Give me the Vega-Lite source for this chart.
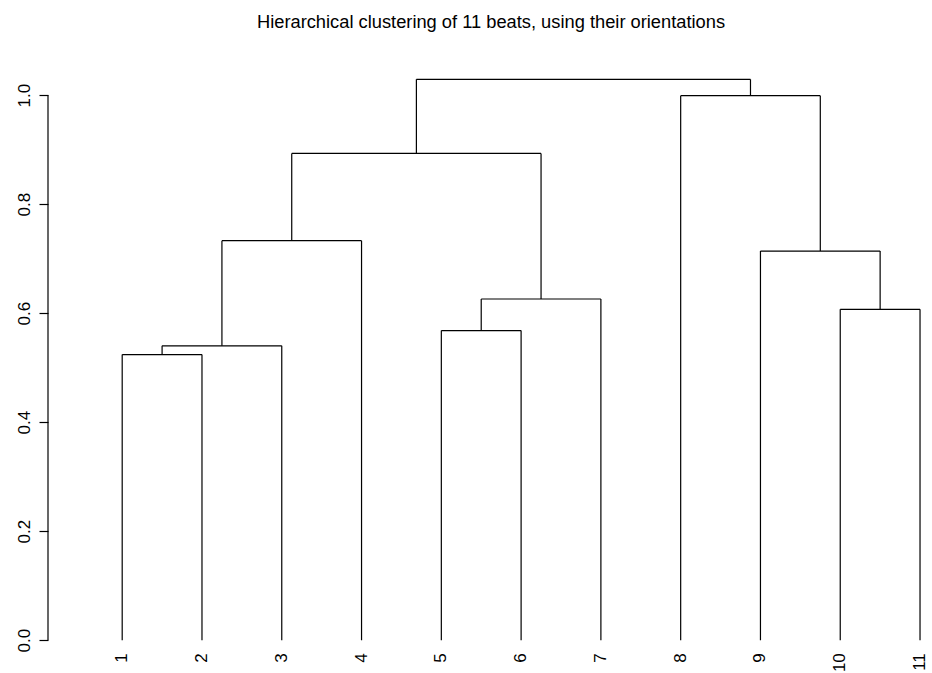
{
  "$schema": "https://vega.github.io/schema/vega-lite/v6.json",
  "width": 880,
  "height": 605,
  "autosize": "none",
  "padding": {"left": 48, "top": 57, "right": 4, "bottom": 11},
  "background": "white",
  "config": {"view": {"stroke": null}, "font": "Liberation Sans"},
  "title": {
    "text": "Hierarchical clustering of 11 beats, using their orientations",
    "font": "Liberation Sans",
    "fontSize": 18.3,
    "fontWeight": "normal",
    "color": "black",
    "anchor": "middle",
    "frame": "group",
    "baseline": "alphabetic",
    "offset": 11,
    "dx": 3
  },
  "datasets": {
    "segments": [
      {"x": 1, "x2": 1, "y": 0, "y2": 0.524},
      {"x": 2, "x2": 2, "y": 0, "y2": 0.524},
      {"x": 1, "x2": 2, "y": 0.524, "y2": 0.524},
      {"x": 1.5, "x2": 1.5, "y": 0.524, "y2": 0.540},
      {"x": 3, "x2": 3, "y": 0, "y2": 0.540},
      {"x": 1.5, "x2": 3, "y": 0.540, "y2": 0.540},
      {"x": 2.25, "x2": 2.25, "y": 0.540, "y2": 0.733},
      {"x": 4, "x2": 4, "y": 0, "y2": 0.733},
      {"x": 2.25, "x2": 4, "y": 0.733, "y2": 0.733},
      {"x": 3.125, "x2": 3.125, "y": 0.733, "y2": 0.893},
      {"x": 5, "x2": 5, "y": 0, "y2": 0.568},
      {"x": 6, "x2": 6, "y": 0, "y2": 0.568},
      {"x": 5, "x2": 6, "y": 0.568, "y2": 0.568},
      {"x": 5.5, "x2": 5.5, "y": 0.568, "y2": 0.626},
      {"x": 7, "x2": 7, "y": 0, "y2": 0.626},
      {"x": 5.5, "x2": 7, "y": 0.626, "y2": 0.626},
      {"x": 6.25, "x2": 6.25, "y": 0.626, "y2": 0.893},
      {"x": 3.125, "x2": 6.25, "y": 0.893, "y2": 0.893},
      {"x": 4.6875, "x2": 4.6875, "y": 0.893, "y2": 1.029},
      {"x": 10, "x2": 10, "y": 0, "y2": 0.607},
      {"x": 11, "x2": 11, "y": 0, "y2": 0.607},
      {"x": 10, "x2": 11, "y": 0.607, "y2": 0.607},
      {"x": 10.5, "x2": 10.5, "y": 0.607, "y2": 0.714},
      {"x": 9, "x2": 9, "y": 0, "y2": 0.714},
      {"x": 9, "x2": 10.5, "y": 0.714, "y2": 0.714},
      {"x": 9.75, "x2": 9.75, "y": 0.714, "y2": 0.999},
      {"x": 8, "x2": 8, "y": 0, "y2": 0.999},
      {"x": 8, "x2": 9.75, "y": 0.999, "y2": 0.999},
      {"x": 8.875, "x2": 8.875, "y": 0.999, "y2": 1.029},
      {"x": 4.6875, "x2": 8.875, "y": 1.029, "y2": 1.029}
    ],
    "leaves": [
      {"label": "1", "x": 1, "y": 0},
      {"label": "2", "x": 2, "y": 0},
      {"label": "3", "x": 3, "y": 0},
      {"label": "4", "x": 4, "y": 0},
      {"label": "5", "x": 5, "y": 0},
      {"label": "6", "x": 6, "y": 0},
      {"label": "7", "x": 7, "y": 0},
      {"label": "8", "x": 8, "y": 0},
      {"label": "9", "x": 9, "y": 0},
      {"label": "10", "x": 10, "y": 0},
      {"label": "11", "x": 11, "y": 0}
    ],
    "axisline": [{"x": 0.07, "y": 0, "y2": 1}]
  },
  "layer": [
    {
      "data": {"name": "segments"},
      "mark": {"type": "rule", "color": "black", "strokeWidth": 1.2},
      "encoding": {
        "x": {"field": "x", "type": "quantitative", "scale": {"domain": [0.07, 11.1], "nice": false, "zero": false}, "axis": null},
        "x2": {"field": "x2"},
        "y": {"field": "y", "type": "quantitative", "scale": {"domain": [-0.04, 1.07], "nice": false, "zero": false},
          "axis": {
            "values": [0, 0.2, 0.4, 0.6, 0.8, 1.0],
            "format": ".1f",
            "title": null,
            "grid": false,
            "domain": false,
            "ticks": true,
            "tickSize": 9,
            "tickColor": "black",
            "tickWidth": 1.2,
            "labelAngle": 270,
            "labelAlign": "center",
            "labelBaseline": "alphabetic",
            "labelPadding": 10,
            "labelFont": "Liberation Sans",
            "labelFontSize": 17,
            "labelColor": "black"
          }
        },
        "y2": {"field": "y2"}
      }
    },
    {
      "data": {"name": "axisline"},
      "mark": {"type": "rule", "color": "black", "strokeWidth": 1.2},
      "encoding": {
        "x": {"field": "x", "type": "quantitative"},
        "y": {"field": "y", "type": "quantitative"},
        "y2": {"field": "y2"}
      }
    },
    {
      "data": {"name": "leaves"},
      "mark": {"type": "text", "angle": 270, "align": "right", "baseline": "middle", "dx": -13, "font": "Liberation Sans", "fontSize": 17, "color": "black"},
      "encoding": {
        "x": {"field": "x", "type": "quantitative"},
        "y": {"field": "y", "type": "quantitative"},
        "text": {"field": "label"}
      }
    }
  ]
}
